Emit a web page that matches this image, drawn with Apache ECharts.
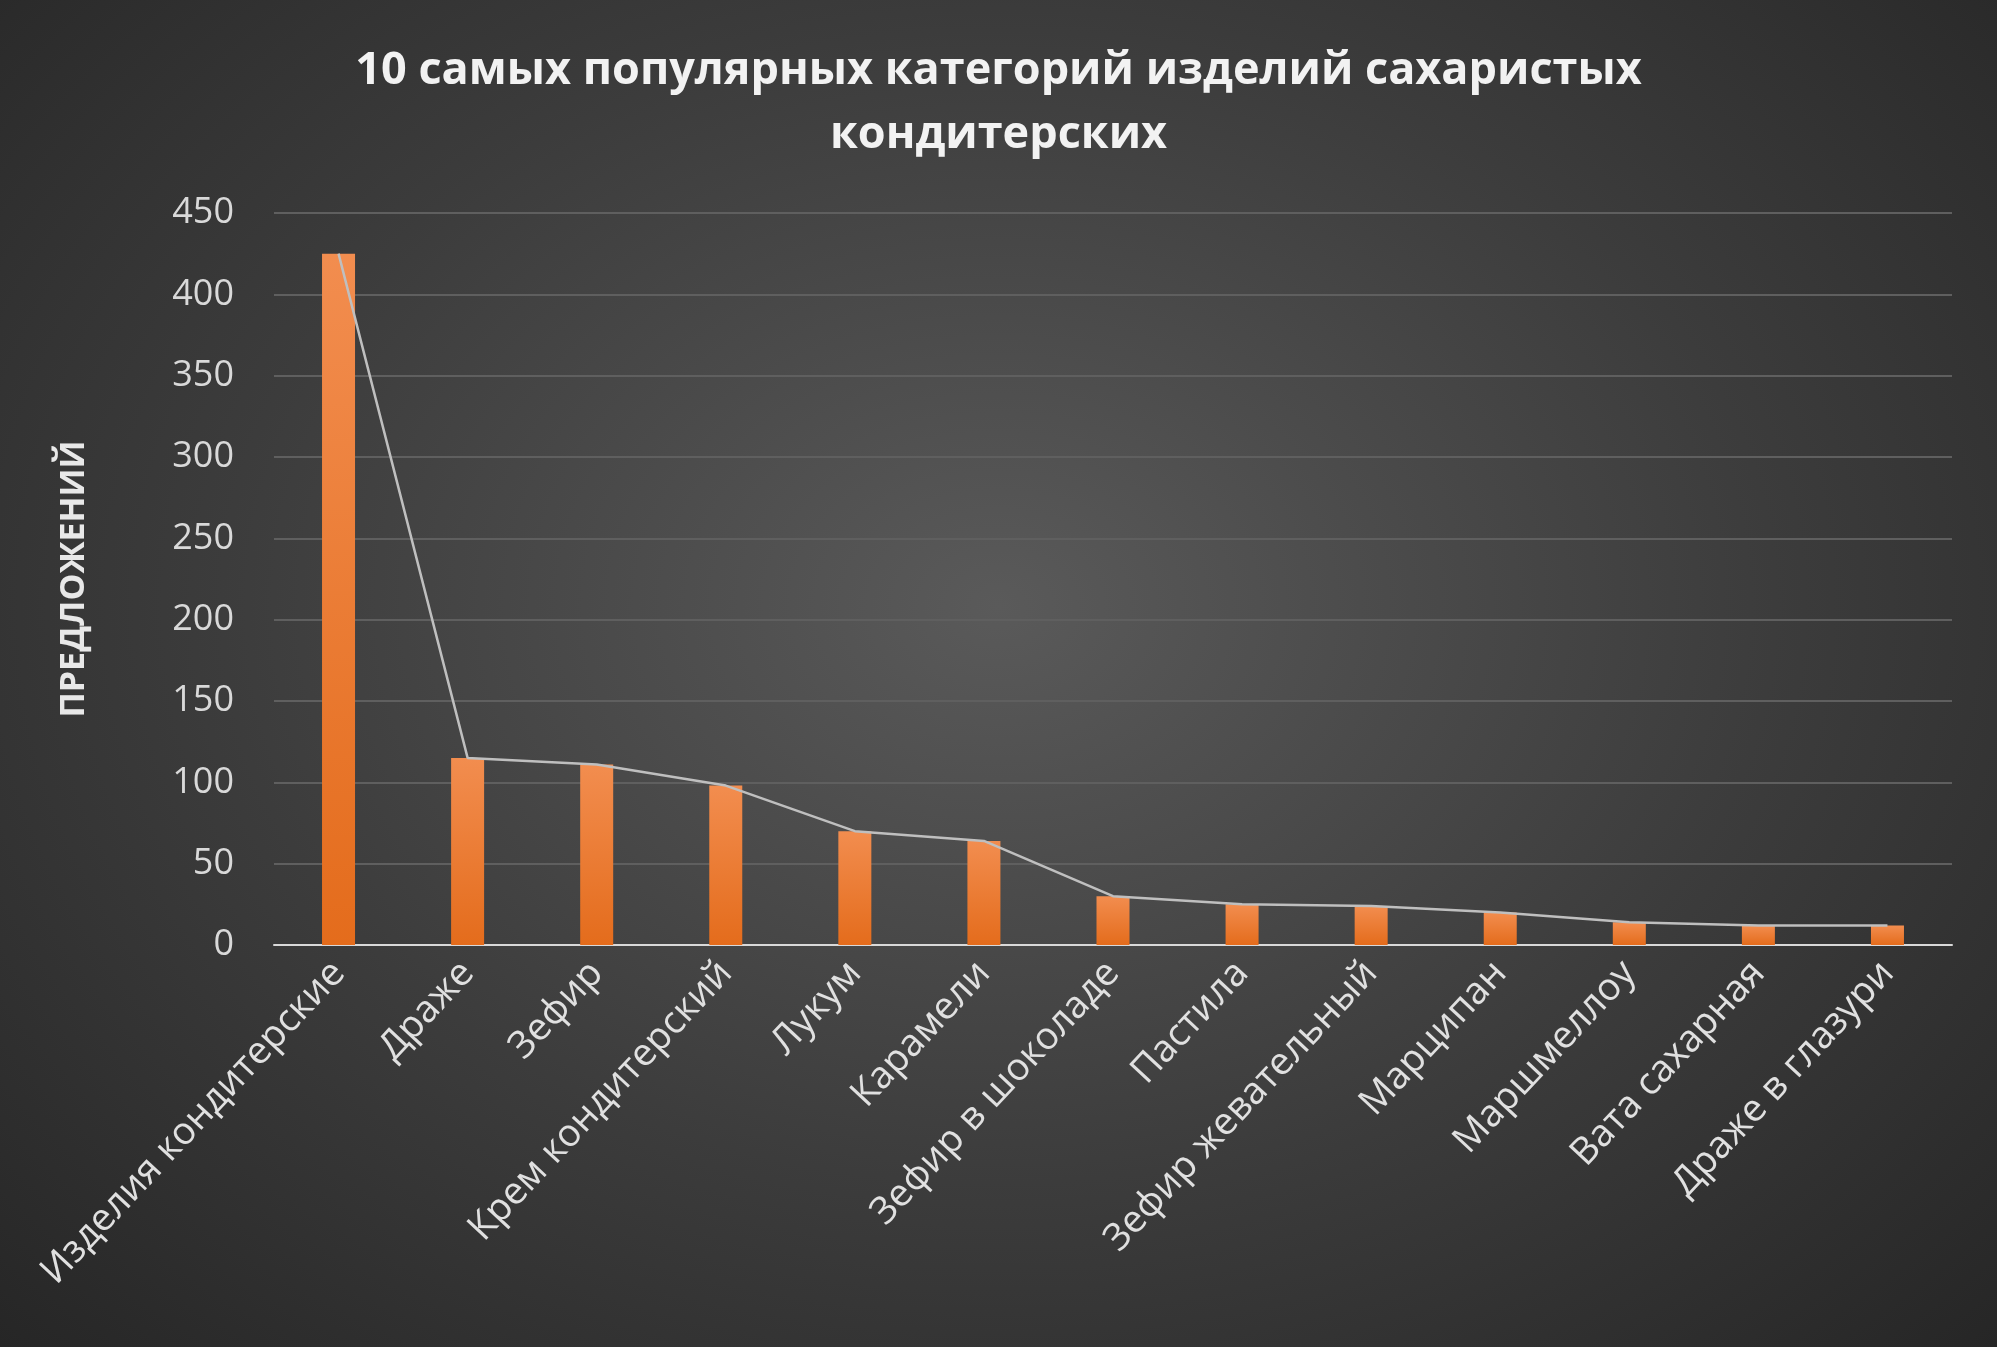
<!DOCTYPE html>
<html>
<head>
<meta charset="utf-8" />
<script src="https://cdn.jsdelivr.net/npm/echarts@6/dist/echarts.min.js"></script>
<style>
  html, body { margin: 0; height: 100%; }
  #main { width: 1997px; height: 1347px;
    background: radial-gradient(ellipse at 50% 45%, #5a5a5a 0%, #3c3c3c 55%, #262626 100%); }
</style>
</head>
<body>
<div id="main"></div>
<script>
// данные графика
var categories = ['Изделия кондитерские', 'Драже', 'Зефир', 'Крем кондитерский', 'Лукум', 'Карамели',
  'Зефир в шоколаде', 'Пастила', 'Зефир жевательный', 'Марципан', 'Маршмеллоу', 'Вата сахарная', 'Драже в глазури'];
var values = [425, 115, 111, 98, 70, 64, 30, 25, 24, 20, 14, 12, 12];
var yTicks = { min: 0, max: 450, interval: 50 };

var myChart = echarts.init(document.getElementById('main'));
var font = '"Open Sans", "Noto Sans", sans-serif';
var option = {
  backgroundColor: 'transparent',
  title: {
    text: '10 самых популярных категорий изделий сахаристых\nкондитерских',
    left: 'center', top: 34,
    textStyle: { color: '#f2f2f2', fontFamily: font, fontWeight: 'bold', fontSize: 45, lineHeight: 64 }
  },
  grid: { left: 274, right: 45, top: 213, bottom: 402 },
  xAxis: {
    type: 'category',
    data: categories,
    axisLine: { lineStyle: { color: '#d9d9d9', width: 2 } },
    axisTick: { show: false },
    axisLabel: { rotate: 47, color: '#e0e0e0', fontFamily: font, fontSize: 38, margin: 22, interval: 0 }
  },
  yAxis: {
    type: 'value',
    min: yTicks.min, max: yTicks.max, interval: yTicks.interval,
    name: 'ПРЕДЛОЖЕНИЙ',
    nameLocation: 'middle', nameGap: 183, nameRotate: 90,
    nameTextStyle: { color: '#e8e8e8', fontFamily: font, fontWeight: 'bold', fontSize: 34 },
    axisLabel: { color: '#d9d9d9', fontFamily: font, fontSize: 36, margin: 40 },
    splitLine: { lineStyle: { color: '#5f5f5f', width: 2 } }
  },
  series: [
    {
      type: 'bar',
      data: values,
      barWidth: 33,
      itemStyle: {
        color: new echarts.graphic.LinearGradient(0, 0, 0, 1, [
          { offset: 0, color: '#f28d4f' },
          { offset: 1, color: '#e46c1c' }
        ])
      }
    },
    {
      type: 'line',
      data: values,
      showSymbol: false,
      lineStyle: { color: '#bfbfbf', width: 2.5 },
      z: 3
    }
  ]
};
myChart.setOption(option);
</script>
</body>
</html>
